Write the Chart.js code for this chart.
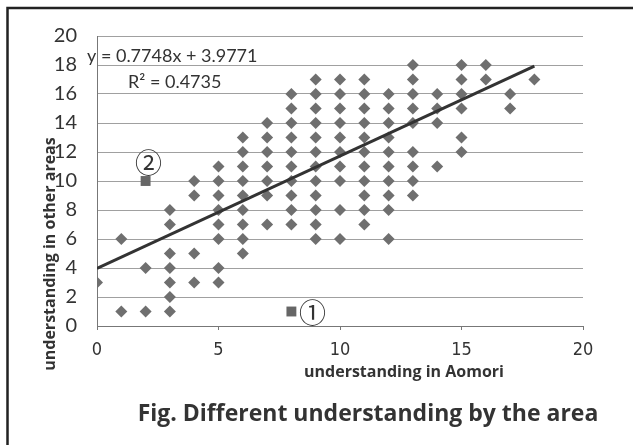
<!DOCTYPE html>
<html>
<head>
<meta charset="utf-8">
<script src="https://cdn.jsdelivr.net/npm/chart.js@4.4.1/dist/chart.umd.min.js"></script>
<style>
  html, body { margin: 0; padding: 0; background: #fff; }
  #wrap { width: 633px; height: 445px; }
</style>
</head>
<body>
<div id="wrap"><canvas id="myChart" width="633" height="445"></canvas></div>
<script>
"use strict";
// understanding score in Aomori (x) and the scores seen in other areas (y) at that x
const aomoriScores = [0, 1, 2, 3, 4, 5, 6, 7, 8, 9, 10, 11, 12, 13, 14, 15, 16, 17, 18];
const otherAreaScores = [
    [3],
    [6, 1],
    [4, 1],
    [8, 7, 5, 4, 3, 2, 1],
    [10, 9, 5, 3],
    [11, 10, 9, 8, 7, 6, 4, 3],
    [13, 12, 11, 10, 9, 8, 7, 6, 5],
    [14, 13, 12, 11, 10, 9, 7],
    [16, 15, 14, 13, 12, 11, 10, 9, 8, 7],
    [17, 16, 15, 14, 13, 12, 11, 10, 9, 8, 7, 6],
    [17, 16, 15, 14, 13, 12, 11, 10, 8, 6],
    [17, 16, 15, 14, 13, 12, 11, 10, 9, 8, 7],
    [16, 15, 14, 13, 12, 11, 10, 9, 8, 6],
    [18, 17, 16, 15, 14, 12, 11, 10, 9],
    [16, 15, 14, 11],
    [18, 17, 16, 15, 13, 12],
    [18, 17],
    [16, 15],
    [17]
];
// the two marked outliers
const outlierX = [8, 2];
const outlierY = [1, 10];
const outlierLabels = ['①', '②'];
// Excel trend line
const slope = 0.7748;
const intercept = 3.9771;
const trendRange = [0, 18];
const xTicks = [0, 5, 10, 15, 20];
const yTicks = [0, 2, 4, 6, 8, 10, 12, 14, 16, 18, 20];

document.addEventListener('DOMContentLoaded', () => {
    const canvas = document.getElementById('myChart');
    const ctx = canvas.getContext('2d');

    const scatterPoints = [];
    aomoriScores.forEach((x, i) => {
        otherAreaScores[i].forEach((y) => scatterPoints.push({ x: x, y: y }));
    });
    const outlierPoints = outlierX.map((x, i) => ({ x: x, y: outlierY[i] }));
    const trendPoints = trendRange.map((x) => ({ x: x, y: slope * x + intercept }));

    const textPlugin = {
        id: 'figureText',
        afterDraw(chart) {
            const c = chart.ctx;
            const xs = chart.scales.x;
            const ys = chart.scales.y;
            c.save();
            // scanned frame
            c.strokeStyle = '#222';
            c.lineWidth = 2.5;
            c.beginPath();
            c.moveTo(7.5, 445);
            c.lineTo(7.5, 8);
            c.lineTo(633, 8);
            c.stroke();

            c.fillStyle = '#333';
            c.textBaseline = 'middle';
            // regression text
            c.font = '18px Lato, "Open Sans", sans-serif';
            c.textAlign = 'left';
            c.fillText('y = 0.7748x + 3.9771', 87, 56);
            c.fillText('R² = 0.4735', 128, 82);

            // circled markers
            c.font = '27px "Noto Sans CJK JP", sans-serif';
            c.textAlign = 'center';
            const p1 = { x: xs.getPixelForValue(outlierX[0]), y: ys.getPixelForValue(outlierY[0]) };
            c.fillText(outlierLabels[0], p1.x + 21, p1.y + 1);
            const p2 = { x: xs.getPixelForValue(outlierX[1]), y: ys.getPixelForValue(outlierY[1]) };
            c.fillText(outlierLabels[1], p2.x + 3, p2.y - 18);

            // axis titles
            c.fillStyle = '#333';
            c.font = 'bold 16px "Open Sans", Lato, sans-serif';
            c.textAlign = 'center';
            c.fillText('understanding in Aomori', 404, 372);
            c.save();
            c.translate(50, 254);
            c.rotate(-Math.PI / 2);
            c.fillText('understanding in other areas', 0, 0);
            c.restore();

            // caption
            c.font = 'bold 23px "Open Sans", Lato, sans-serif';
            c.fillText('Fig. Different understanding by the area', 368, 414);
            c.restore();
        }
    };

    const chartConfig = {
        type: 'scatter',
        data: {
            datasets: [{
                    label: 'trend',
                    type: 'line',
                    data: trendPoints,
                    borderColor: '#333',
                    borderWidth: 3,
                    pointRadius: 0,
                    fill: false,
                    order: 0
                }, {
                    label: 'respondents',
                    data: scatterPoints,
                    pointStyle: 'rectRot',
                    pointRadius: 6,
                    backgroundColor: '#6f6f6f',
                    borderColor: '#6f6f6f',
                    borderWidth: 0,
                    order: 1
                }, {
                    label: 'outliers',
                    data: outlierPoints,
                    pointStyle: 'rect',
                    pointRadius: 7,
                    backgroundColor: '#666',
                    borderColor: '#666',
                    borderWidth: 0,
                    order: 1
                }]
        },
        options: {
            responsive: false,
            animation: false,
            events: [],
            layout: { padding: { left: 0, top: 36, right: 50, bottom: 0 } },
            plugins: {
                legend: { display: false },
                tooltip: { enabled: false },
                title: { display: false }
            },
            scales: {
                x: {
                    type: 'linear',
                    min: 0,
                    max: 20,
                    afterBuildTicks: (scale) => { scale.ticks = xTicks.map((v) => ({ value: v })); },
                    afterFit: (scale) => { scale.height = 119; },
                    grid: {
                        drawOnChartArea: false,
                        drawTicks: true,
                        tickLength: 4,
                        color: '#777'
                    },
                    border: { color: '#777', width: 1 },
                    ticks: {
                        padding: 10,
                        maxRotation: 0,
                        color: '#333',
                        font: { family: '"Liberation Sans Narrow", "DejaVu Sans Condensed", sans-serif', size: 18 }
                    }
                },
                y: {
                    type: 'linear',
                    min: 0,
                    max: 20,
                    afterBuildTicks: (scale) => { scale.ticks = yTicks.map((v) => ({ value: v })); },
                    afterFit: (scale) => { scale.width = 97; },
                    grid: {
                        drawTicks: false,
                        color: '#a0a0a0',
                        lineWidth: 1
                    },
                    border: { color: '#777', width: 1 },
                    ticks: {
                        padding: 20,
                        color: '#333',
                        font: { family: 'Lato, "Open Sans", sans-serif', size: 20 }
                    }
                }
            }
        },
        plugins: [textPlugin]
    };
    new Chart(ctx, chartConfig);
});
</script>
</body>
</html>
